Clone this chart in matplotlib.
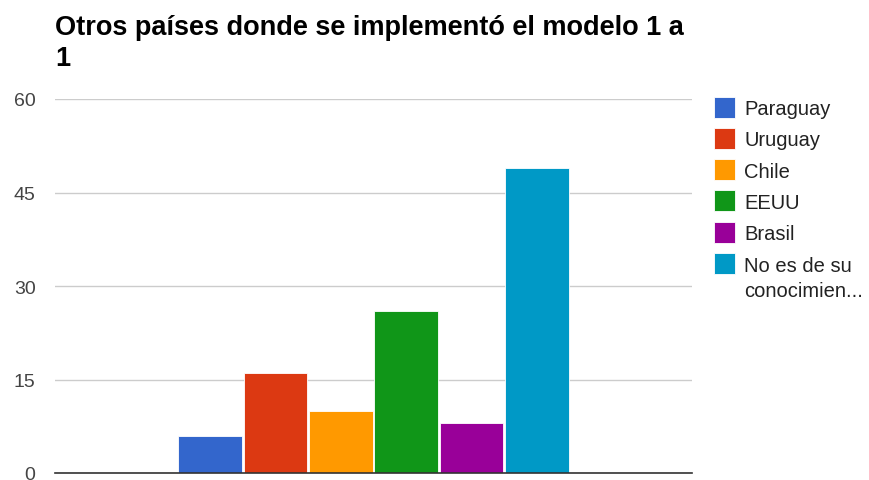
import numpy as np
import matplotlib
matplotlib.use("Agg")
import matplotlib.pyplot as plt
from matplotlib.patches import Rectangle

plt.rcParams['font.family'] = ['Liberation Sans', 'DejaVu Sans']

# data
series = ["Paraguay", "Uruguay", "Chile", "EEUU", "Brasil", "No es de su\nconocimien..."]
values = [6, 16, 10, 26, 8, 49]
colors = ["#3366cc", "#dc3912", "#ff9900", "#109618", "#990099", "#0099c6"]
yticks = [0, 15, 30, 45, 60]
title = "Otros países donde se implementó el modelo 1 a\n1"

W, H = 869, 481
fig = plt.figure(figsize=(W / 100, H / 100), dpi=100)
ax = fig.add_axes([55 / W, 7 / H, (692 - 55) / W, (474 - 100) / H])

x = np.arange(len(values))
ax.bar(x, values, width=0.975, color=colors, edgecolor="white", linewidth=0.6, zorder=3)

half = 637 / 65.3 / 2
ax.set_xlim(2.5 - half, 2.5 + half)
ax.set_ylim(0, 60)
ax.set_yticks(yticks)
ax.set_yticklabels([str(t) for t in yticks], fontsize=14, color="#444444")
ax.tick_params(axis="y", length=0, pad=14)
ax.set_xticks([])
ax.grid(axis="y", color="#cccccc", linewidth=1, zorder=0)
for s in ["top", "right", "left"]:
    ax.spines[s].set_visible(False)
ax.spines["bottom"].set_color("#333333")
ax.spines["bottom"].set_linewidth(1.2)
ax.spines["bottom"].set_zorder(4)

fig.text(55 / W, 1 - 15 / H, title, fontsize=19.5, fontweight="bold", color="#000000",
         ha="left", va="top", linespacing=1.25)

# legend, one row every ~31 px, swatch next to the first text line
row_h = 31.3
for i, (name, c) in enumerate(zip(series, colors)):
    yc = 108 + row_h * i
    fig.patches.append(Rectangle((714 / W, 1 - (yc + 10.5) / H), 21 / W, 21 / H,
                                 facecolor=c, edgecolor="white", linewidth=0.6,
                                 transform=fig.transFigure, figure=fig))
    fig.text(744 / W, 1 - (yc - 8) / H, name, fontsize=14.5, color="#222222",
             ha="left", va="top", linespacing=1.45)

fig.savefig("out.png", dpi=100)
